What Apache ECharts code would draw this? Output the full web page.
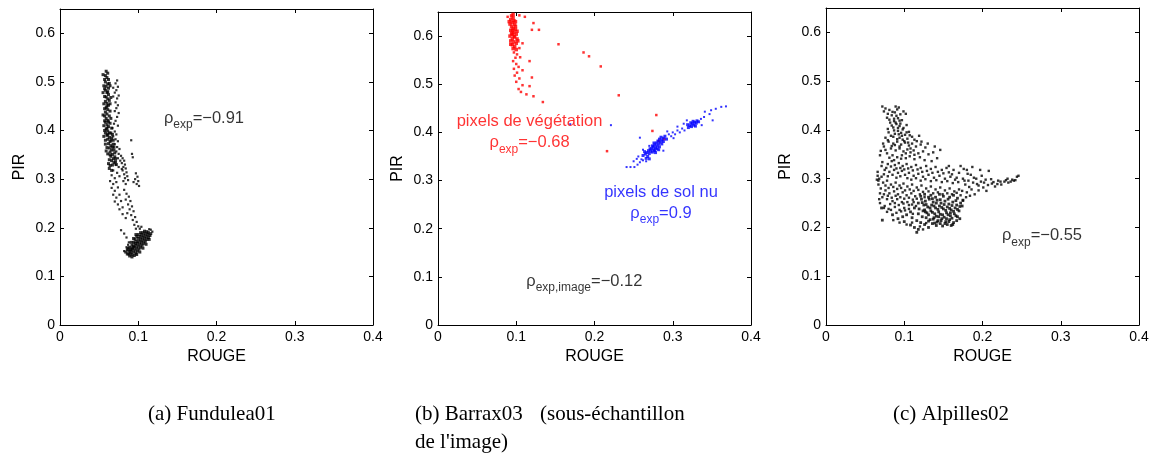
<!DOCTYPE html>
<html><head><meta charset="utf-8">
<script src="https://cdn.jsdelivr.net/npm/echarts@6/dist/echarts.min.js"></script>
<style>html,body{margin:0;padding:0;background:#fff}#c{width:1155px;height:464px}</style>
</head><body><div id="c"></div>
<script>
// ---- tick labels ----
const xTicks = [0, 0.1, 0.2, 0.3, 0.4];
const yTicks = [0, 0.1, 0.2, 0.3, 0.4, 0.5, 0.6];
const captions = ["(a) Fundulea01", "(b) Barrax03", "(sous-échantillon", "de l'image)", "(c) Alpilles02"];

// ---- (a) Fundulea01 ----
const fundDense = [[0.059,0.522],[0.061,0.518],[0.058,0.513],[0.060,0.509],[0.062,0.505],[0.058,0.500],[0.061,0.496],[0.059,0.491],[0.062,0.487],[0.058,0.483],[0.060,0.478],[0.062,0.474],[0.059,0.469],[0.061,0.465],[0.058,0.460],[0.060,0.456],[0.062,0.452],[0.059,0.447],[0.061,0.443],[0.058,0.438],[0.060,0.434],[0.063,0.430],[0.059,0.425],[0.061,0.421],[0.058,0.417],[0.060,0.412],[0.062,0.408],[0.059,0.403],[0.061,0.399],[0.058,0.395],[0.060,0.390],[0.063,0.386],[0.061,0.382],[0.064,0.377],[0.062,0.373],[0.065,0.369],[0.063,0.364],[0.066,0.360],[0.064,0.356],[0.067,0.351],[0.065,0.347],[0.068,0.342],[0.066,0.338],[0.069,0.334],[0.067,0.329],
[0.057,0.505],[0.063,0.497],[0.057,0.470],[0.063,0.462],[0.057,0.445],[0.064,0.440],[0.057,0.420],[0.064,0.415],[0.057,0.400],[0.065,0.395],[0.058,0.380],[0.066,0.385],[0.060,0.365],[0.068,0.372],[0.061,0.352],[0.069,0.360],[0.063,0.340],[0.070,0.346],[0.064,0.328],[0.071,0.336],
[0.055,0.515],[0.056,0.492],[0.055,0.478],[0.056,0.455],[0.055,0.432],[0.056,0.410],[0.056,0.388],[0.064,0.492],[0.065,0.468],[0.064,0.455],[0.065,0.425],[0.066,0.405],[0.067,0.392],[0.068,0.380],[0.069,0.366],[0.070,0.354],[0.071,0.342],[0.072,0.330],[0.062,0.332],[0.063,0.322],[0.066,0.318],[0.058,0.372],[0.059,0.358],[0.057,0.430],[0.057,0.486],[0.061,0.480],[0.060,0.450],[0.062,0.418],[0.061,0.392],[0.063,0.395],[0.060,0.405],[0.064,0.350],[0.067,0.366],[0.065,0.380],
[0.088,0.146],[0.090,0.148],[0.092,0.145],[0.091,0.152],[0.094,0.150],[0.093,0.156],[0.096,0.154],[0.095,0.160],[0.098,0.158],[0.097,0.164],[0.100,0.162],[0.099,0.168],[0.102,0.166],[0.101,0.172],[0.104,0.170],[0.103,0.176],[0.106,0.174],[0.105,0.180],[0.108,0.178],[0.107,0.184],[0.110,0.182],[0.109,0.188],[0.112,0.186],[0.111,0.192],[0.113,0.190],[0.098,0.172],[0.100,0.178],[0.096,0.168],[0.094,0.162],[0.102,0.182],[0.104,0.186],[0.106,0.190],[0.108,0.193],[0.092,0.158],[0.090,0.155],[0.088,0.152],[0.086,0.155],
[0.084,0.150],[0.086,0.146],[0.089,0.142],[0.092,0.140],[0.095,0.143],[0.097,0.148],[0.099,0.152],[0.101,0.156],[0.103,0.160],[0.105,0.164],[0.107,0.168],[0.109,0.172],[0.111,0.176],[0.113,0.180],[0.115,0.184],[0.116,0.188],[0.114,0.176],[0.110,0.166],[0.106,0.158],[0.102,0.150],[0.098,0.145],[0.094,0.170],[0.096,0.176],[0.098,0.182],[0.100,0.186],[0.103,0.190],[0.092,0.164],[0.089,0.160],[0.087,0.158],[0.091,0.170],[0.094,0.178],[0.097,0.186]];
const fundSparse = [[0.073,0.503],[0.071,0.497],[0.074,0.490],[0.072,0.483],[0.070,0.478],[0.075,0.472],[0.073,0.466],[0.071,0.458],[0.074,0.452],[0.072,0.446],[0.070,0.440],[0.075,0.436],[0.073,0.428],[0.071,0.420],[0.069,0.414],[0.074,0.410],[0.068,0.488],[0.068,0.470],
[0.067,0.405],[0.070,0.398],[0.072,0.392],[0.068,0.388],[0.071,0.382],[0.074,0.378],[0.070,0.372],[0.073,0.366],[0.076,0.362],[0.072,0.357],[0.075,0.352],[0.078,0.348],[0.074,0.343],[0.077,0.338],[0.071,0.330],[0.075,0.325],[0.079,0.321],[0.068,0.318],[0.073,0.313],[0.066,0.308],[0.070,0.302],[0.076,0.306],[0.064,0.296],[0.068,0.290],[0.072,0.294],[0.066,0.282],[0.070,0.276],[0.074,0.283],[0.068,0.268],[0.072,0.262],[0.076,0.268],[0.070,0.254],[0.074,0.248],[0.078,0.255],[0.080,0.242],[0.076,0.238],[0.091,0.380],
[0.080,0.343],[0.082,0.338],[0.079,0.333],[0.083,0.330],[0.081,0.325],[0.084,0.322],[0.080,0.318],[0.085,0.314],[0.082,0.310],[0.086,0.306],[0.083,0.302],[0.087,0.298],[0.081,0.296],[0.084,0.290],
[0.097,0.312],[0.099,0.305],[0.096,0.300],[0.100,0.296],[0.098,0.290],[0.101,0.286],[0.094,0.294],[0.092,0.352],[0.093,0.345],
[0.082,0.278],[0.085,0.270],[0.088,0.264],[0.084,0.258],[0.090,0.255],[0.087,0.248],[0.092,0.244],[0.089,0.238],[0.094,0.234],[0.086,0.230],[0.091,0.226],[0.096,0.222],[0.093,0.216],[0.098,0.212],[0.095,0.206],[0.100,0.203],[0.084,0.220],[0.080,0.228],[0.102,0.198],[0.104,0.202],[0.097,0.198],[0.078,0.195],[0.082,0.188],[0.085,0.180],[0.088,0.170],[0.116,0.196],[0.118,0.192],[0.114,0.197],[0.085,0.160],[0.087,0.165],[0.082,0.152]];

// ---- (b) Barrax03 ----
const vegDense = [[0.094,0.642],[0.096,0.638],[0.093,0.634],[0.097,0.632],[0.095,0.628],[0.092,0.625],[0.098,0.624],[0.094,0.620],[0.096,0.616],[0.099,0.614],[0.093,0.612],[0.097,0.608],[0.095,0.604],[0.100,0.604],[0.092,0.600],[0.098,0.598],[0.095,0.594],[0.101,0.594],[0.093,0.590],[0.097,0.588],[0.100,0.585],[0.095,0.582],[0.098,0.578],[0.102,0.590],[0.094,0.605],[0.099,0.620],[0.096,0.645],[0.091,0.630],[0.101,0.610],[0.096,0.574],[0.100,0.572],[0.093,0.583],[0.097,0.600],[0.099,0.630],[0.095,0.612]];
const vegSparse = [[0.089,0.640],[0.104,0.643],[0.111,0.640],[0.122,0.627],[0.129,0.613],[0.120,0.613],[0.108,0.585],[0.104,0.575],[0.097,0.566],[0.101,0.562],[0.099,0.555],[0.105,0.556],[0.117,0.548],[0.096,0.548],[0.100,0.542],[0.103,0.536],[0.097,0.532],[0.108,0.529],[0.101,0.524],[0.098,0.518],[0.104,0.512],[0.120,0.514],[0.100,0.505],[0.108,0.498],[0.117,0.496],[0.103,0.490],[0.113,0.479],[0.122,0.475],[0.106,0.484],[0.134,0.463],[0.154,0.583],[0.186,0.566],[0.193,0.558],[0.208,0.537],[0.231,0.477],[0.216,0.361],[0.279,0.436],[0.274,0.403],[0.282,0.382],[0.289,0.386]];
const solDense = [[0.262,0.352],[0.265,0.355],[0.268,0.350],[0.267,0.358],[0.270,0.356],[0.272,0.361],[0.269,0.362],[0.274,0.359],[0.273,0.366],[0.276,0.364],[0.275,0.370],[0.278,0.368],[0.277,0.374],[0.280,0.372],[0.279,0.378],[0.282,0.376],[0.281,0.382],[0.284,0.380],[0.286,0.384],[0.283,0.386],[0.288,0.388],[0.285,0.390],[0.290,0.392],[0.271,0.366],[0.274,0.372],[0.277,0.362],[0.280,0.366],[0.283,0.370],[0.286,0.376],[0.276,0.378],[0.264,0.360],[0.266,0.346],[0.270,0.345],[0.278,0.358],[0.282,0.364],[0.288,0.381],[0.292,0.386],
[0.320,0.410],[0.322,0.414],[0.324,0.412],[0.325,0.418],[0.327,0.415],[0.328,0.421],[0.330,0.419],[0.331,0.424],[0.323,0.420],[0.326,0.423],[0.329,0.413],[0.333,0.422],[0.319,0.416]];
const solSparse = [[0.241,0.328],[0.246,0.328],[0.251,0.328],[0.255,0.333],[0.250,0.340],[0.254,0.345],[0.258,0.338],[0.260,0.344],[0.256,0.350],[0.258,0.389],[0.262,0.342],[0.266,0.340],[0.295,0.396],[0.298,0.392],[0.300,0.400],[0.303,0.396],[0.306,0.404],[0.309,0.400],[0.312,0.408],[0.315,0.404],[0.301,0.388],[0.293,0.402],[0.306,0.412],[0.314,0.418],[0.318,0.425],[0.336,0.428],[0.340,0.432],[0.341,0.443],[0.347,0.438],[0.349,0.446],[0.355,0.449],[0.362,0.453],[0.368,0.454],[0.351,0.425],[0.337,0.415],[0.169,0.417],[0.221,0.415],[0.288,0.362],[0.270,0.372],[0.262,0.364]];

// ---- (c) Alpilles02 ----
const alpSparse = [[0.072,0.448],[0.076,0.444],[0.074,0.438],[0.089,0.448],[0.091,0.442],[0.093,0.446],[0.088,0.436],[0.095,0.432],[0.099,0.438],[0.102,0.433],[0.084,0.430],[0.078,0.425],[0.092,0.424],[0.097,0.420],[0.087,0.418],
[0.082,0.415],[0.090,0.412],[0.094,0.408],[0.086,0.405],[0.099,0.404],[0.103,0.410],[0.079,0.402],[0.092,0.398],[0.096,0.394],[0.088,0.392],[0.101,0.390],[0.106,0.396],[0.110,0.386],[0.083,0.388],[0.076,0.384],[0.094,0.384],[0.113,0.380],[0.119,0.388],[0.098,0.380],[0.104,0.382],
[0.080,0.376],[0.086,0.372],[0.091,0.376],[0.096,0.370],[0.101,0.374],[0.106,0.368],[0.110,0.372],[0.115,0.366],[0.121,0.370],[0.127,0.364],[0.074,0.366],[0.083,0.362],[0.089,0.358],[0.094,0.362],[0.099,0.356],[0.104,0.360],[0.108,0.354],[0.112,0.358],[0.118,0.352],[0.124,0.356],[0.131,0.350],[0.137,0.354],[0.078,0.352],[0.085,0.348],[0.091,0.344],[0.097,0.348],[0.102,0.342],[0.107,0.346],[0.113,0.340],[0.120,0.344],[0.126,0.338],[0.142,0.342],[0.135,0.336],[0.069,0.348],
[0.072,0.334],[0.079,0.330],[0.084,0.336],[0.088,0.328],[0.093,0.332],[0.098,0.326],[0.103,0.330],[0.109,0.324],[0.115,0.328],[0.121,0.322],[0.128,0.326],[0.134,0.320],[0.140,0.324],[0.148,0.318],[0.154,0.322],[0.075,0.318],[0.081,0.314],[0.087,0.318],[0.092,0.312],[0.097,0.316],[0.101,0.308],[0.106,0.312],[0.112,0.306],[0.118,0.310],[0.124,0.304],[0.131,0.308],[0.138,0.302],[0.145,0.306],[0.152,0.300],[0.159,0.304],[0.165,0.298],[0.066,0.306],[0.068,0.300],[0.071,0.304],
[0.067,0.296],[0.073,0.292],[0.078,0.296],[0.083,0.288],[0.089,0.292],[0.094,0.286],[0.099,0.290],[0.104,0.284],[0.110,0.288],[0.116,0.282],[0.122,0.286],[0.128,0.280],[0.134,0.284],[0.140,0.278],[0.146,0.282],[0.152,0.276],[0.158,0.280],[0.164,0.274],[0.170,0.278],[0.070,0.280],[0.076,0.276],[0.081,0.270],[0.087,0.274],[0.092,0.268],[0.098,0.272],[0.103,0.266],[0.109,0.270],[0.114,0.264],[0.120,0.268],[0.126,0.262],[0.072,0.262],[0.078,0.258],[0.085,0.254],[0.091,0.258],[0.097,0.252],[0.069,0.250],[0.075,0.244],[0.074,0.240],[0.080,0.238],[0.088,0.242],[0.094,0.236],[0.100,0.240],[0.106,0.246],[0.112,0.252],
[0.175,0.300],[0.178,0.288],[0.182,0.296],[0.185,0.308],[0.188,0.292],[0.192,0.300],[0.195,0.286],[0.198,0.294],[0.201,0.282],[0.204,0.298],[0.208,0.316],[0.212,0.290],[0.216,0.284],[0.220,0.296],[0.224,0.288],[0.228,0.294],[0.232,0.300],[0.236,0.294],[0.240,0.296],[0.244,0.304],[0.246,0.306],[0.180,0.272],[0.186,0.278],[0.190,0.268],[0.176,0.320],[0.170,0.312],[0.163,0.318],[0.172,0.326],[0.181,0.310],[0.197,0.318],[0.179,0.262],[0.175,0.255],[0.205,0.275],
[0.081,0.441],[0.085,0.437],[0.079,0.433],[0.090,0.429],[0.087,0.423],[0.094,0.419],[0.081,0.421],[0.089,0.415],[0.095,0.413],[0.084,0.409],[0.092,0.404],[0.098,0.401],[0.087,0.399],[0.080,0.395],[0.093,0.391],[0.103,0.395],[0.097,0.388],[0.086,0.386],[0.107,0.389],[0.091,0.381],[0.079,0.379],[0.100,0.377],[0.105,0.374],[0.088,0.369],[0.094,0.366],[0.084,0.367],[0.116,0.377],[0.122,0.376],[0.130,0.372],[0.139,0.366],[0.146,0.359],[0.108,0.362],[0.113,0.349],[0.102,0.352],[0.096,0.341],[0.087,0.338],[0.081,0.343],[0.076,0.359],[0.073,0.372],[0.070,0.357],
[0.071,0.326],[0.077,0.322],[0.083,0.325],[0.090,0.321],[0.095,0.322],[0.100,0.319],[0.105,0.321],[0.111,0.317],[0.117,0.319],[0.123,0.314],[0.129,0.316],[0.136,0.312],[0.143,0.314],[0.150,0.311],[0.157,0.313],[0.074,0.309],[0.079,0.305],[0.085,0.308],[0.090,0.302],[0.095,0.305],[0.104,0.301],[0.109,0.298],[0.115,0.301],[0.121,0.296],[0.127,0.299],[0.134,0.295],[0.141,0.297],[0.148,0.293],[0.155,0.295],[0.162,0.291],[0.169,0.293],[0.066,0.314],[0.065,0.298],[0.067,0.288],[0.069,0.270],[0.068,0.258],
[0.076,0.286],[0.080,0.281],[0.086,0.283],[0.091,0.279],[0.096,0.281],[0.101,0.276],[0.107,0.278],[0.112,0.275],[0.118,0.277],[0.124,0.273],[0.131,0.274],[0.137,0.270],[0.143,0.272],[0.149,0.268],[0.155,0.270],[0.161,0.268],[0.167,0.271],[0.172,0.266],[0.074,0.268],[0.079,0.265],[0.084,0.261],[0.089,0.265],[0.095,0.262],[0.100,0.259],[0.106,0.261],[0.111,0.257],[0.116,0.259],[0.082,0.248],[0.088,0.250],[0.093,0.246],[0.099,0.249],[0.104,0.252],[0.110,0.247],[0.115,0.244],[0.078,0.232],[0.083,0.236],[0.090,0.230],[0.096,0.233],[0.101,0.235],[0.106,0.238],[0.111,0.228],[0.086,0.215],[0.094,0.210],[0.103,0.206],[0.110,0.210],[0.120,0.202],[0.124,0.196],[0.128,0.209],
[0.177,0.296],[0.183,0.283],[0.189,0.302],[0.193,0.289],[0.199,0.306],[0.202,0.292],[0.207,0.287],[0.211,0.299],[0.214,0.293],[0.219,0.289],[0.223,0.294],[0.230,0.297],[0.233,0.292],[0.238,0.298],[0.242,0.297],[0.180,0.318],[0.187,0.324],[0.174,0.275],[0.184,0.265],[0.195,0.276],[0.157,0.326],[0.161,0.309],[0.167,0.302]];
const alpDense = [[0.122,0.258],[0.127,0.254],[0.132,0.258],[0.137,0.252],[0.142,0.256],[0.147,0.250],[0.152,0.254],[0.157,0.248],[0.162,0.252],[0.167,0.246],[0.172,0.250],[0.125,0.246],[0.130,0.242],[0.135,0.246],[0.140,0.240],[0.145,0.244],[0.150,0.238],[0.155,0.242],[0.160,0.236],[0.165,0.240],[0.170,0.234],[0.119,0.238],[0.124,0.234],[0.129,0.230],[0.134,0.234],[0.139,0.228],[0.144,0.232],[0.149,0.226],[0.154,0.230],[0.159,0.224],[0.164,0.228],[0.168,0.222],[0.128,0.220],[0.133,0.216],[0.138,0.220],[0.143,0.214],[0.148,0.218],[0.153,0.212],[0.158,0.216],[0.163,0.210],[0.136,0.208],[0.141,0.204],[0.146,0.208],[0.160,0.204],[0.155,0.206],[0.150,0.264],[0.145,0.268],[0.158,0.262],[0.163,0.266],[0.168,0.260],[0.140,0.262],[0.134,0.266],[0.118,0.250],[0.113,0.240],[0.108,0.232],[0.103,0.226],[0.098,0.222],[0.110,0.220],[0.116,0.214],[0.121,0.210],[0.113,0.200],[0.118,0.196],[0.116,0.190],[0.108,0.205],[0.100,0.212],[0.092,0.218],[0.085,0.226],[0.071,0.240],[0.072,0.215],[0.131,0.200],[0.126,0.206],
[0.121,0.264],[0.126,0.268],[0.131,0.262],[0.136,0.259],[0.141,0.250],[0.146,0.257],[0.151,0.247],[0.156,0.258],[0.161,0.245],[0.166,0.255],[0.171,0.243],[0.123,0.251],[0.128,0.247],[0.133,0.240],[0.138,0.244],[0.143,0.237],[0.148,0.241],[0.153,0.235],[0.158,0.239],[0.163,0.233],[0.168,0.237],[0.126,0.236],[0.131,0.226],[0.136,0.231],[0.141,0.223],[0.146,0.227],[0.151,0.221],[0.156,0.226],[0.161,0.219],[0.166,0.224],[0.171,0.218],[0.131,0.213],[0.137,0.217],[0.142,0.211],[0.147,0.214],[0.152,0.208],[0.157,0.212],[0.162,0.206],[0.167,0.214],[0.139,0.209],[0.149,0.203],[0.144,0.222],[0.154,0.218],[0.159,0.230],[0.174,0.244],[0.175,0.256],[0.118,0.228],[0.123,0.222],[0.127,0.232]];

// ---- annotation texts ----
const annFund = "{r|ρ}{s|exp}{r|=−0.91}";
const annVeg = "{r|pixels de végétation}\n{r|ρ}{s|exp}{r|=−0.68}";
const annSol = "{r|pixels de sol nu}\n{r|ρ}{s|exp}{r|=0.9}";
const annImg = "{r|ρ}{s|exp,image}{r|=−0.12}";
const annAlp = "{r|ρ}{s|exp}{r|=−0.55}";

const SANS = "Liberation Sans, Arial, Helvetica, sans-serif";
const SERIF = '21px "Liberation Serif", serif';
const grids = [
  {left: 60, top: 9, width: 313, height: 316},
  {left: 438, top: 12, width: 313, height: 313},
  {left: 826, top: 8, width: 313, height: 317}
];
const xAxes = [], yAxes = [];
grids.forEach((g, i) => {
  const common = {min: 0, axisLine: {show: true, onZero: false, lineStyle: {color: '#000', width: 1}},
    axisTick: {show: true, inside: true, length: 4, lineStyle: {color: '#000'}}, splitLine: {show: false}};
  xAxes.push(Object.assign({}, common, {type: 'value', gridIndex: i, position: 'bottom', max: 0.4, interval: 0.1,
    name: 'ROUGE', nameLocation: 'middle', nameGap: 21, nameTextStyle: {fontFamily: SANS, fontSize: 16, color: '#000'},
    axisLabel: {fontFamily: SANS, fontSize: 14, color: '#000', margin: 5, formatter: v => xTicks.includes(+v.toFixed(2)) ? String(+v.toFixed(2)) : ''}}));
  xAxes.push(Object.assign({}, common, {type: 'value', gridIndex: i, position: 'top', max: 0.4, interval: 0.1, axisLabel: {show: false}}));
  yAxes.push(Object.assign({}, common, {type: 'value', gridIndex: i, position: 'left', max: 0.65, interval: 0.1,
    name: 'PIR', nameLocation: 'middle', nameGap: 32, nameTextStyle: {fontFamily: SANS, fontSize: 16, color: '#000'},
    axisLabel: {fontFamily: SANS, fontSize: 14, color: '#000', margin: 5, showMaxLabel: false,
      formatter: v => yTicks.includes(+v.toFixed(2)) ? String(+v.toFixed(2)) : ''}}));
  yAxes.push(Object.assign({}, common, {type: 'value', gridIndex: i, position: 'right', max: 0.65, interval: 0.1, axisLabel: {show: false}}));
});

function pts(data, gi, color, size) {
  return {type: 'scatter', xAxisIndex: gi * 2, yAxisIndex: gi * 2, data: data, symbol: 'rect', symbolSize: size,
    itemStyle: {color: color}, silent: true, z: 3, large: false};
}
function ann(text, gi, pos, color) {
  return {type: 'scatter', xAxisIndex: gi * 2, yAxisIndex: gi * 2, data: [pos], symbolSize: 0, silent: true, z: 5,
    label: {show: true, position: 'inside', formatter: text, align: 'center', verticalAlign: 'middle',
      rich: {r: {fontFamily: SANS, fontSize: 16.5, color: color, align: 'center'},
             s: {fontFamily: SANS, fontSize: 12, color: color, padding: [13, 0, 0, 0], align: 'center'}}}};
}

const chart = echarts.init(document.getElementById('c'), null, {renderer: 'canvas'});
chart.setOption({
  animation: false,
  backgroundColor: '#fff',
  grid: grids,
  xAxis: xAxes,
  yAxis: yAxes,
  series: [
    pts(fundSparse, 0, '#000', 2.2), pts(fundDense, 0, '#000', 3),
    pts(vegSparse, 1, '#ff0000', 2.5), pts(vegDense, 1, '#ff0000', 3.5),
    pts(solSparse, 1, '#0000ff', 2), pts(solDense, 1, '#0000ff', 3),
    pts(alpSparse, 2, '#000', 2.4), pts(alpDense, 2, '#000', 2.8),
    ann(annFund, 0, [0.184, 0.425], '#000'),
    ann(annVeg, 1, [0.117, 0.396], '#ff0000'),
    ann(annSol, 1, [0.285, 0.249], '#0000ff'),
    ann(annImg, 1, [0.187, 0.090], '#000'),
    ann(annAlp, 2, [0.276, 0.183], '#000')
  ],
  graphic: [
    {type: 'text', left: 148, top: 404, style: {text: captions[0], font: SERIF, fill: '#000'}},
    {type: 'text', left: 415, top: 404, style: {text: captions[1], font: SERIF, fill: '#000'}},
    {type: 'text', left: 540, top: 404, style: {text: captions[2], font: SERIF, fill: '#000'}},
    {type: 'text', left: 415, top: 432, style: {text: captions[3], font: SERIF, fill: '#000'}},
    {type: 'text', left: 893, top: 404, style: {text: captions[4], font: SERIF, fill: '#000'}}
  ]
});
</script>
</body></html>
